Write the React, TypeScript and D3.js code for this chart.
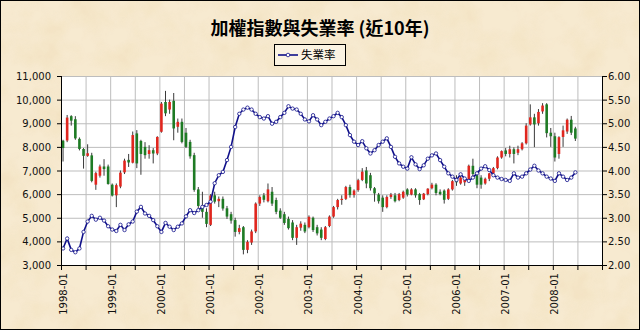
import React, { useEffect } from "react";
import * as d3 from "d3";

// ---------- categories ----------
const years = ["1998","1999","2000","2001","2002","2003","2004","2005","2006","2007","2008"];
const monthNums = ["01","02","03","04","05","06","07","08","09","10","11","12"];
const months: string[] = years.flatMap((y) => monthNums.map((m) => `${y}-${m}`));

// ---------- TAIEX monthly OHLC (1998-01 .. 2008-06) ----------
const openV = [8260,8270,9300,9170,8340,7910,7620,7640,6400,6780,7170,7170,
  6400,5950,6320,6920,7450,7330,8570,8250,8000,7700,7860,7720,
  8640,9900,9580,9950,8850,9060,8600,8210,7650,6200,5500,5250,
  4700,5950,5700,5800,5400,5150,4900,4400,4600,3640,3950,4420,
  5600,5950,5700,6100,5750,5300,5150,4950,4800,4150,4580,4700,
  4600,5000,4600,4500,4100,4650,5050,5450,5750,5800,6300,5960,
  6170,6600,7000,6800,6250,5980,5850,5450,5880,5950,5750,5850,
  6200,5980,6200,6000,5780,6000,6250,6400,6100,6150,5800,6200,
  6560,6450,6500,6600,7200,6800,6700,6450,6650,6880,7100,7550,
  7850,7700,7900,7750,7900,8150,8950,9250,9000,9500,9800,8600,
  8450,7700,8420,8650,9150,8780];
const highV = [8300,9350,9340,9300,8400,7950,8110,7750,6950,7250,7480,7250,
  6450,6450,7000,7500,7700,8650,8710,8300,8200,8070,7950,8450,
  9900,10370,10000,10280,9200,9200,8800,8300,7750,6300,6100,5400,
  6000,6100,5900,5900,5500,5250,5000,4700,4650,4050,4500,5650,
  5950,6050,6450,6300,5850,5400,5250,5050,4900,4700,4850,4800,
  5100,5050,4700,4600,4650,5100,5500,5800,5950,6350,6400,6200,
  6650,7100,7150,6900,6300,6050,5950,5950,6050,6050,6050,6150,
  6250,6250,6250,6050,6050,6250,6480,6460,6200,6200,6250,6600,
  6800,6800,6650,7250,7500,6900,6800,6700,6900,7150,7600,7850,
  7950,8050,7980,8050,8200,9000,9800,9400,9600,9850,9850,8800,
  8600,8450,8900,9200,9310,8850];
const lowV = [7380,8200,8900,8300,7850,7080,7580,6500,6180,6700,6780,6400,
  5900,5450,6250,6850,7150,7300,7100,6820,7500,7500,7300,7650,
  8600,9300,9400,8280,8600,8150,7950,7500,6100,5400,5000,4600,
  4650,5600,5450,5300,4950,4750,4200,4300,3450,3500,3850,4350,
  5500,5650,5650,5500,5150,4950,4700,4500,4050,3850,4450,4350,
  4550,4400,4250,4050,4050,4600,5000,5350,5550,5750,5850,5850,
  6100,6550,6250,6150,5680,5600,5250,5400,5800,5650,5700,5800,
  5900,5950,5850,5550,5750,5950,6200,5950,5950,5600,5750,6150,
  6350,6400,6350,6550,6700,6250,6230,6400,6550,6800,7050,7500,
  7600,7550,7300,7650,7850,8100,8900,7990,8900,9400,8400,8000,
  7380,7500,8000,8550,8500,8250];
const closeV = [7950,9240,9110,8360,7910,7620,7730,6560,6890,7170,7060,6430,
  5940,6380,6910,7420,7340,8500,7300,7700,7650,7860,7720,8420,
  9830,9420,9900,8780,9060,8210,8000,7600,6180,5500,5250,4740,
  5940,5680,5800,5390,5050,4880,4400,4560,3640,3980,4420,5600,
  5880,5760,6200,5600,5250,5000,4780,4560,4150,4600,4750,4420,
  5040,4480,4340,4150,4600,5050,5450,5750,5800,6300,5960,6150,
  6590,6950,6450,6250,6030,5700,5450,5880,5980,5700,6000,6100,
  5980,6200,5950,5750,6020,6230,6400,6050,6000,5760,6200,6550,
  6500,6700,6600,7200,6850,6400,6400,6650,6880,7100,7550,7820,
  7700,7900,7700,7900,8150,8900,9250,8950,9480,9750,8580,8450,
  7550,8410,8700,9150,8600,8350];

// ---------- unemployment rate (%) ----------
const unemp = [2.35,2.56,2.32,2.27,2.35,2.70,2.92,3.04,2.96,3.00,2.94,2.82,
  2.75,2.72,2.85,2.74,2.86,2.92,3.13,3.23,3.09,3.04,2.95,2.82,
  2.70,2.89,2.81,2.74,2.81,2.88,3.03,3.16,3.10,3.16,3.23,3.27,
  3.34,3.73,3.90,3.97,4.22,4.50,4.92,5.20,5.29,5.33,5.29,5.20,
  5.13,5.10,5.15,4.99,5.03,5.13,5.22,5.36,5.31,5.29,5.20,5.08,
  5.04,5.17,5.08,4.96,5.03,5.10,5.15,5.22,5.13,4.96,4.75,4.61,
  4.54,4.62,4.47,4.36,4.43,4.54,4.61,4.68,4.50,4.29,4.15,4.08,
  4.04,4.28,4.13,4.03,4.11,4.25,4.32,4.36,4.22,4.08,3.94,3.87,
  3.80,3.92,3.83,3.78,3.85,3.94,4.04,4.09,4.01,3.90,3.85,3.82,
  3.80,3.78,3.94,3.85,3.87,3.94,4.02,4.10,4.00,3.94,3.87,3.83,
  3.78,3.94,3.87,3.80,3.85,3.96];

const leftTicks = [3000,4000,5000,6000,7000,8000,9000,10000,11000];
const rightTicks = [2.0,2.5,3.0,3.5,4.0,4.5,5.0,5.5,6.0];
const title = "加權指數與失業率 (近10年)";
const legendLabel = "失業率";

const W = 640, H = 330;
const PL = 61, PR = 602, PT = 76, PB = 265;
const NUM_FONT = "'DejaVu Sans', Verdana, sans-serif";
const CJK_FONT = "'Noto Sans CJK TC', 'Noto Sans CJK SC', sans-serif";
const RED = "#E0261E", GREEN = "#1E7B24", BLUE = "#10108A";

export default function App() {
  useEffect(() => {
    document.body.style.margin = "0";
  }, []);

  const x = d3.scaleBand<string>().domain(months).range([PL, PR]).padding(0);
  const bw = x.bandwidth();
  const cx = (i: number) => (x(months[i]) as number) + bw / 2;
  const yL = d3.scaleLinear().domain([3000, 11000]).range([PB, PT]);
  const yR = d3.scaleLinear().domain([2, 6]).range([PB, PT]);

  const gridX: number[] = [];
  for (let k = 0; k <= months.length; k += 6) {
    gridX.push(k < months.length ? (x(months[k]) as number) : PR);
  }

  const line = d3.line<number>().x((_, i) => cx(i)).y((d) => yR(d));
  const bodyW = 2.6;

  return (
    <svg width={W} height={H} style={{ position: "absolute", left: 0, top: 0, display: "block" }}>
      <defs>
        <filter id="paper" x="0" y="0" width="100%" height="100%">
          <feTurbulence type="fractalNoise" baseFrequency="0.03" numOctaves="4" seed="5" result="n" />
          <feColorMatrix in="n" type="matrix"
            values="0 0 0 0 0.88  0 0 0 0 0.74  0 0 0 0 0.50  0 0 0 1.5 -0.6" />
        </filter>
      </defs>
      <rect x={0} y={0} width={W} height={H} fill="#F7EAD0" />
      <rect x={0} y={0} width={W} height={H} filter="url(#paper)" opacity={0.9} />
      <rect x={0.5} y={0.5} width={W - 1} height={H - 1} fill="none" stroke="#000" strokeWidth={1} />

      {/* title */}
      <text x={320} y={35} textAnchor="middle" fontFamily={CJK_FONT} fontWeight="bold" fontSize={18} fill="#000">
        {title}
      </text>

      {/* legend */}
      <rect x={274.5} y={44.5} width={71} height={21} fill="#FBF3E2" stroke="#000" strokeWidth={1} />
      <line x1={278} x2={298} y1={55} y2={55} stroke={BLUE} strokeWidth={1.6} />
      <circle cx={288} cy={55} r={1.8} fill="#fff" stroke={BLUE} strokeWidth={0.8} />
      <text x={301} y={59} fontFamily={CJK_FONT} fontSize={11.5} fill="#000">{legendLabel}</text>

      {/* plot area */}
      <rect x={PL} y={PT} width={PR - PL} height={PB - PT} fill="#fff" />
      {leftTicks.map((t) => (
        <line key={"h" + t} x1={PL} x2={PR} y1={yL(t) + 0.5} y2={yL(t) + 0.5} stroke="#BDBDBD" strokeWidth={1} />
      ))}
      {gridX.map((gx, k) => (
        <line key={"v" + k} x1={gx + 0.5} x2={gx + 0.5} y1={PT} y2={PB} stroke="#BDBDBD" strokeWidth={1} />
      ))}

      {/* candles */}
      {openV.map((o, i) => {
        const c = closeV[i];
        const up = c >= o;
        const xc = cx(i);
        const yTop = yL(Math.max(o, c));
        const yBot = yL(Math.min(o, c));
        return (
          <g key={"c" + i}>
            <line x1={xc} x2={xc} y1={yL(highV[i])} y2={yL(lowV[i])} stroke="#3A3A3A" strokeWidth={1} />
            <rect x={xc - bodyW / 2} y={yTop} width={bodyW} height={Math.max(1, yBot - yTop)} fill={up ? RED : GREEN} />
          </g>
        );
      })}

      {/* unemployment line */}
      <path d={line(unemp) || ""} fill="none" stroke={BLUE} strokeWidth={1.6} />
      {unemp.map((u, i) => (
        <circle key={"m" + i} cx={cx(i)} cy={yR(u)} r={1.7} fill="#fff" stroke={BLUE} strokeWidth={0.8} />
      ))}

      {/* axes */}
      <line x1={PL + 0.5} x2={PL + 0.5} y1={PT} y2={PB + 0.5} stroke="#000" />
      <line x1={PR + 0.5} x2={PR + 0.5} y1={PT} y2={PB + 0.5} stroke="#000" />
      <line x1={PL} x2={PR + 1} y1={PB + 0.5} y2={PB + 0.5} stroke="#000" />
      {leftTicks.map((t) => (
        <g key={"lt" + t}>
          <line x1={PL - 4} x2={PL} y1={yL(t) + 0.5} y2={yL(t) + 0.5} stroke="#000" />
          <text x={51} y={yL(t) + 4} textAnchor="end" fontFamily={NUM_FONT} fontSize={10} fill="#111">
            {d3.format(",")(t)}
          </text>
        </g>
      ))}
      {rightTicks.map((t) => (
        <g key={"rt" + t}>
          <line x1={PR + 1} x2={PR + 5} y1={yR(t) + 0.5} y2={yR(t) + 0.5} stroke="#000" />
          <text x={608} y={yR(t) + 4} textAnchor="start" fontFamily={NUM_FONT} fontSize={10} fill="#111">
            {d3.format(".2f")(t)}
          </text>
        </g>
      ))}
      {gridX.map((gx, k) => (
        <line key={"bt" + k} x1={gx + 0.5} x2={gx + 0.5} y1={PB} y2={PB + 5} stroke="#000" />
      ))}
      {months.map((m, i) =>
        i % 12 === 0 ? (
          <text key={"xl" + m} transform={`translate(${cx(i) + 3.5},273) rotate(-90)`} textAnchor="end"
            fontFamily={NUM_FONT} fontSize={10} fill="#111">
            {m}
          </text>
        ) : null
      )}
    </svg>
  );
}
